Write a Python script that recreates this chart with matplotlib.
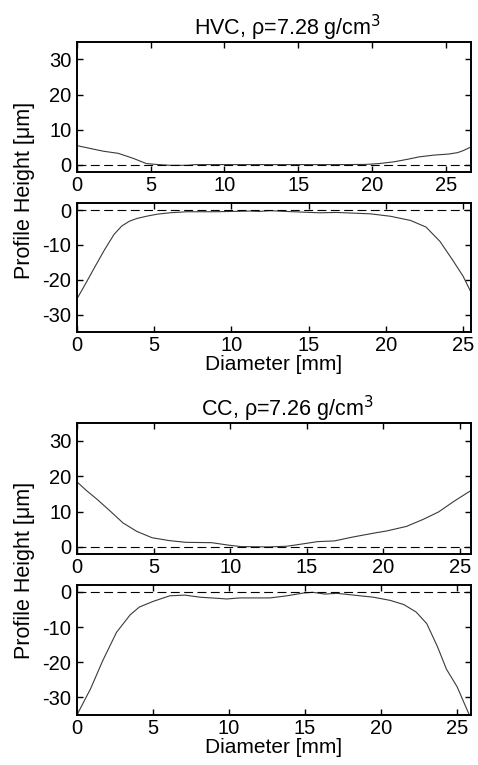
#!/usr/bin/env python3
"""Surface profiles of the two compacts: HVC and CC, upper and lower faces."""
import matplotlib
matplotlib.use("Agg")
import matplotlib.pyplot as plt

plt.rcParams["font.family"] = ["Liberation Sans", "DejaVu Sans"]
plt.rcParams["font.size"] = 14.5
plt.rcParams["axes.unicode_minus"] = False

# HVC, upper face
hvc_top_x = [0, 1.0, 1.8, 2.8, 3.8, 4.7, 5.5, 6.3, 7.5, 8.0, 10, 12, 14, 16, 18,
             19.6, 20.5, 21.5, 22.4, 23.2, 24.2, 25.2, 25.8, 26.2, 26.7]
hvc_top_y = [5.5, 4.6, 3.9, 3.3, 1.9, 0.4, 0.1, -0.1, -0.1, 0.1, 0.1, 0.1, 0.1, 0.1, 0.1,
             0.15, 0.4, 0.9, 1.6, 2.3, 2.8, 3.1, 3.5, 4.1, 5.1]

# HVC, lower face
hvc_bot_x = [0, 0.6, 1.2, 1.8, 2.4, 2.9, 3.4, 3.9, 4.6, 5.2, 6.0, 7.1, 9.0, 11.2, 11.8,
             12.5, 14.0, 15.7, 16.8, 19.0, 20.3, 21.6, 22.6, 23.5, 24.3, 25.0, 25.5]
hvc_bot_y = [-25.5, -20.8, -16.0, -11.3, -7.0, -4.6, -3.2, -2.4, -1.7, -1.2, -0.8, -0.5, -0.5, -0.3, -0.4,
             -0.2, -0.5, -0.8, -0.7, -1.1, -1.8, -3.0, -4.9, -9.0, -14.2, -19.0, -23.5]

# CC, upper face
cc_top_x = [0, 0.6, 1.3, 2.1, 2.6, 3.0, 3.9, 4.9, 6.0, 7.1, 8.8, 9.9, 10.7, 12.5, 13.7,
            14.8, 15.7, 16.8, 18.0, 19.5, 20.2, 21.5, 22.6, 23.6, 24.5, 25.0, 25.7]
cc_top_y = [18.4, 16.0, 13.5, 10.4, 8.4, 6.8, 4.4, 2.6, 1.8, 1.3, 1.2, 0.5, 0.1, 0.0, 0.2,
            0.9, 1.5, 1.7, 2.8, 4.0, 4.5, 5.8, 7.8, 9.9, 12.6, 14.0, 15.9]

# CC, lower face
cc_bot_x = [0, 0.9, 1.7, 2.6, 3.5, 4.1, 5.0, 6.1, 7.1, 8.1, 9.2, 9.85, 10.7, 12.7, 13.8,
            14.9, 15.5, 16.3, 17.1, 18.2, 19.5, 20.6, 21.5, 22.3, 23.0, 23.7, 24.3, 25.0, 25.8]
cc_bot_y = [-35, -27.5, -19.5, -11.5, -6.5, -4.3, -2.7, -1.1, -0.9, -1.5, -1.8, -2.0, -1.7, -1.7, -1.1,
            -0.3, -0.1, -0.6, -0.4, -0.9, -1.5, -2.4, -3.6, -5.7, -9.0, -15.5, -22.0, -27.0, -35]

titles = ["HVC, \u03c1=7.28 g/cm$^3$", "CC, \u03c1=7.26 g/cm$^3$"]
top_ticks = [0, 10, 20, 30]
bot_ticks = [0, -10, -20, -30]
x_ticks = [0, 5, 10, 15, 20, 25]


def style_axes(ax, xmax, ylim, yticks):
    ax.set_xlim(0, xmax)
    ax.set_ylim(*ylim)
    ax.set_xticks(x_ticks)
    ax.set_yticks(yticks)
    ax.tick_params(direction="in", length=4, width=1, top=True, right=True,
                   pad=3, labelsize=14.5)
    ax.tick_params(axis="y", pad=4)
    for sp in ax.spines.values():
        sp.set_linewidth(1.4)
    ax.axhline(0, color="black", lw=0.8, ls=(0, (8, 4)))


def draw_profile(ax, x, y):
    ax.plot(x, y, color="#3a3a3a", lw=0.8)


def main():
    fig = plt.figure(figsize=(4.78, 7.65), dpi=100)
    left, width = 0.161, 0.824
    boxes = [
        (0.7752, 0.170),
        (0.5660, 0.1686),
        (0.2758, 0.1712),
        (0.0654, 0.170),
    ]
    axes = [fig.add_axes([left, b, width, h]) for b, h in boxes]

    draw_profile(axes[0], hvc_top_x, hvc_top_y)
    style_axes(axes[0], 26.7, (-2, 35), top_ticks)
    draw_profile(axes[1], hvc_bot_x, hvc_bot_y)
    style_axes(axes[1], 25.5, (-35, 2), bot_ticks)
    draw_profile(axes[2], cc_top_x, cc_top_y)
    style_axes(axes[2], 25.7, (-2, 35), top_ticks)
    draw_profile(axes[3], cc_bot_x, cc_bot_y)
    style_axes(axes[3], 25.9, (-35, 2), bot_ticks)

    for ax, title in zip((axes[0], axes[2]), titles):
        ax.set_title(title, fontsize=15.5, x=0.535, pad=5)
    for ax in (axes[1], axes[3]):
        ax.set_xlabel("Diameter [mm]", fontsize=15, labelpad=0)

    for yc in (190, 570):
        fig.text(25 / 478, 1 - yc / 765, "Profile Height [\u03bcm]", rotation=90,
                 ha="center", va="center", fontsize=15.5)

    fig.savefig("out.png", dpi=100)
    plt.close(fig)


if __name__ == "__main__":
    main()
